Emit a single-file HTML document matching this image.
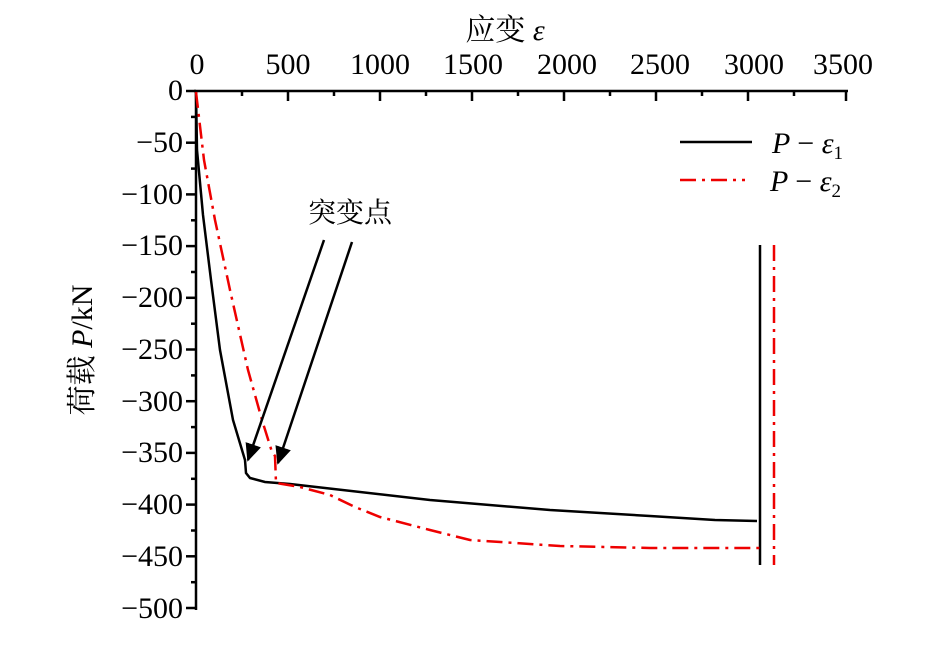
<!DOCTYPE html>
<html><head><meta charset="utf-8"><style>body{margin:0;background:#fff}</style></head><body>
<svg width="925" height="645" viewBox="0 0 925 645" xmlns="http://www.w3.org/2000/svg" font-family="Liberation Serif, Noto Serif CJK SC, serif">
<defs><marker id="a2" viewBox="0 0 10 10" markerWidth="18" markerHeight="18" refX="9" refY="5" orient="auto" markerUnits="userSpaceOnUse"><path d="M0,0.5 L10,5 L0,9.5 z" fill="#000"/></marker></defs>
<g stroke="#000" stroke-width="2.5" fill="none">
<line x1="194" y1="91" x2="848" y2="91"/>
<line x1="196" y1="90" x2="196" y2="610"/>
</g>
<g stroke="#000" stroke-width="2.5">
<line x1="288" y1="91" x2="288" y2="101"/><line x1="380" y1="91" x2="380" y2="101"/><line x1="472" y1="91" x2="472" y2="101"/><line x1="564" y1="91" x2="564" y2="101"/><line x1="656" y1="91" x2="656" y2="101"/><line x1="748" y1="91" x2="748" y2="101"/><line x1="846" y1="91" x2="846" y2="101"/>
<line x1="242" y1="91" x2="242" y2="96"/><line x1="334" y1="91" x2="334" y2="96"/><line x1="426" y1="91" x2="426" y2="96"/><line x1="518" y1="91" x2="518" y2="96"/><line x1="610" y1="91" x2="610" y2="96"/><line x1="702" y1="91" x2="702" y2="96"/><line x1="794" y1="91" x2="794" y2="96"/>
<line x1="186" y1="91" x2="196" y2="91"/><line x1="191" y1="116.9" x2="196" y2="116.9"/>
<line x1="186" y1="142.7" x2="196" y2="142.7"/><line x1="191" y1="168.6" x2="196" y2="168.6"/>
<line x1="186" y1="194.4" x2="196" y2="194.4"/><line x1="191" y1="220.3" x2="196" y2="220.3"/>
<line x1="186" y1="246.1" x2="196" y2="246.1"/><line x1="191" y1="272" x2="196" y2="272"/>
<line x1="186" y1="297.8" x2="196" y2="297.8"/><line x1="191" y1="323.7" x2="196" y2="323.7"/>
<line x1="186" y1="349.5" x2="196" y2="349.5"/><line x1="191" y1="375.4" x2="196" y2="375.4"/>
<line x1="186" y1="401.2" x2="196" y2="401.2"/><line x1="191" y1="427.1" x2="196" y2="427.1"/>
<line x1="186" y1="452.9" x2="196" y2="452.9"/><line x1="191" y1="478.8" x2="196" y2="478.8"/>
<line x1="186" y1="504.6" x2="196" y2="504.6"/><line x1="191" y1="530.5" x2="196" y2="530.5"/>
<line x1="186" y1="556.3" x2="196" y2="556.3"/><line x1="191" y1="582.2" x2="196" y2="582.2"/>
<line x1="186" y1="608" x2="196" y2="608"/>
</g>
<g font-size="30" text-anchor="middle">
<text x="197" y="74">0</text><text x="288" y="74">500</text><text x="380" y="74">1000</text><text x="473" y="74">1500</text><text x="567" y="74">2000</text><text x="660" y="74">2500</text><text x="754" y="74">3000</text><text x="843" y="74">3500</text>
</g>
<g font-size="30" text-anchor="end">
<text x="183" y="100">0</text><text x="183" y="152">−50</text><text x="183" y="204">−100</text><text x="183" y="255">−150</text><text x="183" y="307">−200</text><text x="183" y="359">−250</text><text x="183" y="411">−300</text><text x="183" y="462">−350</text><text x="183" y="514">−400</text><text x="183" y="566">−450</text><text x="183" y="618">−500</text>
</g>
<text x="505" y="40" font-size="30" text-anchor="middle">应变 <tspan font-style="italic">ε</tspan></text>
<text transform="translate(92,350) rotate(-90)" font-size="30" text-anchor="middle">荷载 <tspan font-style="italic">P</tspan>/kN</text>
<polyline fill="none" stroke="#000" stroke-width="2.5" points="196,92 197,150 203,215 211,280 220,350 233,420 245,460 246,473 250,478 265,482 290,484 430,500 550,510 650,516 715,520 757,521"/>
<line x1="760" y1="245" x2="760" y2="565" stroke="#000" stroke-width="2.5"/>
<polyline fill="none" stroke="#e00" stroke-width="2.5" stroke-dasharray="16,6,3,6" points="196,92 204,160 215,220 230,290 248,370 262,420 272,452 275,456 276,483 300,487 330,495 355,507 380,517 430,530 470,540 560,546 650,548 760,548"/>
<line x1="774" y1="245" x2="774" y2="565" stroke="#e00" stroke-width="2.5" stroke-dasharray="16,6,3,6"/>
<line x1="324" y1="240" x2="248" y2="460" stroke="#000" stroke-width="2.5" marker-end="url(#a2)"/>
<line x1="352" y1="242" x2="278" y2="463" stroke="#000" stroke-width="2.5" marker-end="url(#a2)"/>
<text x="350" y="222" font-size="28" text-anchor="middle">突变点</text>
<line x1="680" y1="142" x2="752" y2="142" stroke="#000" stroke-width="2.5"/>
<line x1="680" y1="180" x2="745" y2="180" stroke="#e00" stroke-width="2.5" stroke-dasharray="16,6,3,6"/>
<text x="772" y="153" font-size="30" font-style="italic">P <tspan font-style="normal">−</tspan> ε<tspan font-size="19" dy="6" font-style="normal">1</tspan></text>
<text x="770" y="191" font-size="30" font-style="italic">P <tspan font-style="normal">−</tspan> ε<tspan font-size="19" dy="6" font-style="normal">2</tspan></text>
</svg>
</body></html>
